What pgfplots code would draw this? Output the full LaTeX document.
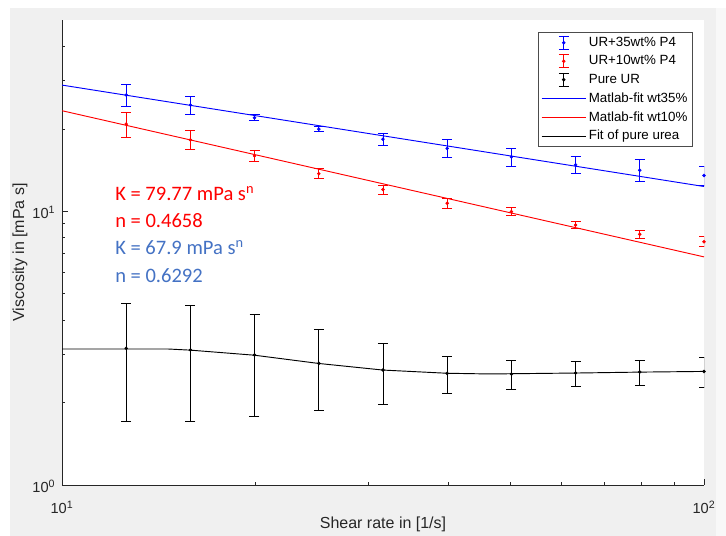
\documentclass[border=0pt]{standalone}
\usepackage{pgfplots}
\pgfplotsset{compat=1.18}
\usepackage{pgfplotstable}
\usepackage{fontspec}
\setmainfont{Liberation Sans}
\newfontfamily\carlito{Carlito}

\definecolor{figgray}{RGB}{240,240,240}
\definecolor{sidegray}{RGB}{248,248,248}
\definecolor{axgray}{RGB}{38,38,38}
\definecolor{kblue}{RGB}{68,114,196}

% measured points: shear rate, viscosity, error
\pgfplotstableread{
x      y      e
12.59  26.60  2.35
15.85  24.45  1.80
19.95  21.97  0.53
25.12  19.97  0.39
31.62  18.35  0.92
39.81  16.97  1.28
50.12  15.81  1.17
63.10  14.78  1.02
79.43  14.13  1.30
100.0  13.51  1.13
}\wtfive

\pgfplotstableread{
x      y      e
12.59  20.83  2.20
15.85  18.25  1.43
19.95  15.94  0.73
25.12  13.72  0.59
31.62  12.01  0.47
39.81  10.70  0.45
50.12  9.97   0.32
63.10  8.91   0.27
79.43  8.24   0.30
100.0  7.74   0.33
}\wtten

\pgfplotstableread{
x      y      e
12.59  3.158  1.445
15.85  3.114  1.410
19.95  2.987  1.210
25.12  2.782  0.910
31.62  2.631  0.670
39.81  2.557  0.395
50.12  2.544  0.315
63.10  2.566  0.270
79.43  2.588  0.275
100.0  2.600  0.335
}\pureur

\newcommand\eblegimg[1]{\addlegendimage{legend image code/.code={
  \draw[#1, line width=0.7pt] (0.58cm,-0.17cm) -- (0.58cm,0.17cm)
    (0.45cm,-0.17cm) -- (0.71cm,-0.17cm) (0.45cm,0.17cm) -- (0.71cm,0.17cm);
  \fill[#1] (0.58cm,0cm) circle (1.1pt);}}}
\newcommand\lnlegimg[1]{\addlegendimage{legend image code/.code={
  \draw[#1, line width=0.7pt] (0cm,0cm) -- (1.16cm,0cm);}}}

\begin{document}
\begin{tikzpicture}
\fill[figgray] (7.5pt,0pt) rectangle (537pt,396pt);
\fill[sidegray] (537pt,0pt) rectangle (544.5pt,396pt);
\path[use as bounding box] (0,0) rectangle (544.5pt,402pt);

\begin{axis}[
  at={(46.5pt,38.25pt)}, anchor=south west,
  scale only axis, width=481.5pt, height=348.75pt,
  xmode=log, ymode=log,
  xmin=10, xmax=100, ymin=1, ymax=50,
  axis x line*=bottom, axis y line*=left,
  axis line style={-, axgray, line width=0.6pt},
  axis background/.style={fill=white},
  tick align=inside,
  major tick length=4.5pt, minor tick length=2.6pt,
  tick style={axgray, line width=0.6pt},
  xtick={10,100}, xticklabels={10\textsuperscript{1},10\textsuperscript{2}},
  ytick={1,10}, yticklabels={10\textsuperscript{0},10\textsuperscript{1}},
  minor xtick={20,30,40,50,60,70,80,90},
  minor ytick={2,3,4,5,6,7,8,9,20,30,40},
  tick label style={font=\fontsize{10.95pt}{13pt}\selectfont, text=axgray},
  xticklabel style={anchor=base, yshift=-21.5pt},
  yticklabel style={xshift=-1.5pt, yshift=-1pt},
  xlabel={Shear rate in [1/s]},
  ylabel={Viscosity in [mPa s]},
  every axis x label/.style={at={(axis description cs:0.5,-0.0839)}, anchor=center,
    font=\fontsize{12pt}{14pt}\selectfont, text=axgray},
  every axis y label/.style={at={(axis description cs:-0.0654,0.5)}, rotate=90, anchor=center,
    font=\fontsize{12pt}{14pt}\selectfont, text=axgray},
  legend style={at={(rel axis cs:0.983,0.974)}, anchor=north east,
    font=\fontsize{10pt}{11pt}\selectfont, draw=black!70, line width=0.5pt,
    fill=white, inner xsep=2pt, inner ysep=1.5pt, row sep=1.4pt},
  legend cell align=left,
  error bars/error bar style={line width=0.7pt},
  error bars/error mark options={rotate=90, mark size=3.75pt, line width=0.7pt},
]

\addplot[blue, only marks, mark=*, mark size=1.1pt, forget plot,
  error bars/.cd, y dir=both, y explicit]
  table[x=x, y=y, y error=e] {\wtfive};
\addplot[red, only marks, mark=*, mark size=1.1pt, forget plot,
  error bars/.cd, y dir=both, y explicit]
  table[x=x, y=y, y error=e] {\wtten};
\addplot[black, only marks, mark=*, mark size=1.1pt, forget plot,
  error bars/.cd, y dir=both, y explicit]
  table[x=x, y=y, y error=e] {\pureur};

% fitted curves
\addplot[blue, line width=0.7pt, forget plot] coordinates {(10,28.92) (100,12.32)};
\addplot[red, line width=0.7pt, forget plot] coordinates {(10,23.31) (100,6.815)};
\addplot[black, line width=0.7pt, forget plot] coordinates {
  (10,3.14) (14.63,3.14) (15.85,3.11) (19.95,2.98) (25.12,2.78) (31.62,2.63)
  (39.81,2.56) (46.4,2.545) (63.1,2.565) (79.43,2.585) (100,2.60)};

\eblegimg{blue}\addlegendentry{UR+35wt\% P4}
\eblegimg{red}\addlegendentry{UR+10wt\% P4}
\eblegimg{black}\addlegendentry{Pure UR}
\lnlegimg{blue}\addlegendentry{Matlab-fit wt35\%}
\lnlegimg{red}\addlegendentry{Matlab-fit wt10\%}
\lnlegimg{black}\addlegendentry{Fit of pure urea}

\begin{scope}[font=\carlito\fontsize{15.4pt}{18pt}\selectfont]
\node[anchor=base west, inner sep=0pt, text=red] at (rel axis cs:0.0826,0.612) {K = 79.77 mPa s\textsuperscript{n}};
\node[anchor=base west, inner sep=0pt, text=red] at (rel axis cs:0.0826,0.553) {n = 0.4658};
\node[anchor=base west, inner sep=0pt, text=kblue] at (rel axis cs:0.0826,0.495) {K = 67.9 mPa s\textsuperscript{n}};
\node[anchor=base west, inner sep=0pt, text=kblue] at (rel axis cs:0.0826,0.435) {n = 0.6292};
\end{scope}
\end{axis}
\end{tikzpicture}
\end{document}
